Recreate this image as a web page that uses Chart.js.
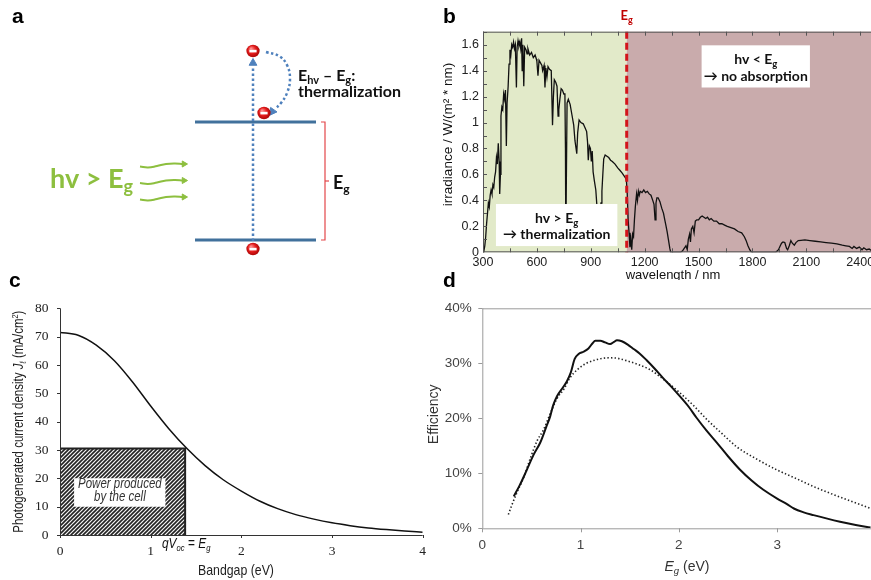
<!DOCTYPE html>
<html><head><meta charset="utf-8">
<script src="https://cdn.jsdelivr.net/npm/chart.js@4.4.1/dist/chart.umd.min.js"></script>
<style>
html,body{margin:0;padding:0;background:#fff}
#root{position:relative;width:871px;height:580px;overflow:hidden;background:#fff}
canvas{position:absolute}
</style></head><body><div id="root">
<canvas id="cc" width="440" height="310" style="left:0;top:270px"></canvas>
<canvas id="cd" width="451" height="310" style="left:420px;top:270px"></canvas>
<canvas id="ca" width="430" height="270" style="left:0;top:0"></canvas>
<canvas id="cb" width="441" height="280" style="left:430px;top:0"></canvas>
</div>
<script>
// ---------------- DATA ----------------
// Panel b: AM1.5 solar spectrum
const specWl = [300,305,310,315,320,325,330,335,340,345,350,355,360,365,370,375,380,385,390,393,397,400,405,410,415,420,425,430,434,440,445,450,455,460,465,470,475,480,486,490,495,500,505,510,515,518,522,527,532,540,545,550,560,570,580,590,597,600,606,612,620,628,632,640,645,650,656,662,670,680,687,692,697,705,712,718,722,728,735,742,750,756,759,761,764,768,775,785,795,805,812,818,822,827,835,845,858,868,877,882,886,892,898,903,908,913,920,928,934,938,942,947,952,957,962,967,972,980,990,1000,1010,1020,1035,1050,1063,1075,1090,1098,1103,1108,1113,1118,1123,1128,1133,1138,1143,1148,1155,1160,1165,1170,1175,1185,1195,1205,1215,1225,1235,1245,1252,1258,1263,1268,1275,1285,1295,1305,1312,1318,1325,1332,1340,1345,1400,1410,1420,1430,1437,1443,1450,1455,1460,1468,1475,1482,1490,1500,1510,1520,1530,1540,1550,1560,1570,1585,1600,1615,1630,1645,1660,1680,1700,1720,1740,1755,1765,1775,1785,1795,1930,1945,1955,1962,1970,1980,1990,1996,2005,2014,2022,2033,2042,2055,2070,2092,2120,2150,2180,2210,2240,2270,2300,2320,2340,2355,2365,2380,2395,2410,2420,2435,2450,2460];
const specIrr = [0,0.01,0.05,0.12,0.22,0.30,0.38,0.35,0.44,0.48,0.45,0.52,0.50,0.58,0.62,0.73,0.68,0.84,0.70,0.45,0.60,1.05,1.12,1.10,1.22,1.18,1.25,0.82,1.15,1.28,1.45,1.56,1.52,1.60,1.58,1.62,1.57,1.60,1.27,1.58,1.63,1.59,1.62,1.57,1.65,1.40,1.60,1.28,1.58,1.56,1.53,1.57,1.52,1.54,1.50,1.52,1.49,1.47,1.36,1.48,1.46,1.44,1.40,1.44,1.27,1.42,1.35,1.43,1.41,1.40,0.98,1.20,1.33,1.31,1.28,1.05,1.10,1.18,1.26,1.25,1.22,1.22,0.80,0.05,0.55,1.15,1.18,1.14,1.06,0.98,0.86,0.80,0.76,0.92,1.02,1.00,0.99,0.96,0.93,0.85,0.71,0.82,0.80,0.70,0.78,0.62,0.55,0.48,0.36,0.22,0.10,0.20,0.30,0.38,0.47,0.60,0.72,0.75,0.74,0.73,0.71,0.70,0.68,0.65,0.63,0.61,0.58,0.56,0.45,0.25,0.15,0.04,0.10,0.02,0.14,0.12,0.25,0.35,0.45,0.40,0.47,0.44,0.47,0.46,0.48,0.46,0.47,0.45,0.44,0.40,0.37,0.25,0.38,0.42,0.42,0.39,0.34,0.30,0.25,0.21,0.16,0.10,0.03,0,0,0.01,0.03,0.05,0.02,0.10,0.14,0.08,0.18,0.20,0.15,0.24,0.25,0.25,0.27,0.28,0.27,0.26,0.27,0.25,0.26,0.24,0.24,0.22,0.22,0.21,0.20,0.19,0.18,0.16,0.15,0.12,0.09,0.05,0.02,0,0,0.02,0.05,0.07,0.08,0.075,0.03,0.02,0.05,0.09,0.07,0.055,0.075,0.09,0.092,0.095,0.09,0.085,0.08,0.075,0.07,0.065,0.055,0.05,0.045,0.03,0.045,0.03,0.04,0.02,0.035,0.02,0.025,0.015];
const bandgapNm = 1100;
const bXRange = [300, 2460];
const bYRange = [0, 1.7];
const bXTicks = [300,600,900,1200,1500,1800,2100,2400];
const bYTicks = [0,0.2,0.4,0.6,0.8,1,1.2,1.4,1.6];
const noAbsBox = [1517, 2120, 1.27, 1.595];      // x0,x1 (nm), y0,y1
const thermBox = [372, 1048, 0.048, 0.372];

// Panel c: photogenerated current density vs bandgap
const cEg = [0,0.2,0.4,0.6,0.8,1.0,1.2,1.4,1.6,1.8,2.0,2.2,2.4,2.6,2.8,3.0,3.2,3.4,3.6,3.8,4.0];
const cJ  = [71.5,70.5,67,61.5,54,45.5,37.5,30.5,24.5,19.5,15.5,12,9.3,7.2,5.6,4.3,3.3,2.5,1.9,1.4,1.0];
const cVocEg = 1.38, cJatEg = 30.5;
const cLabelBox = [0.155, 1.165, 10, 20];

// Panel d: efficiency vs bandgap
const dSolidEg  = [0.32,0.38,0.45,0.52,0.59,0.65,0.69,0.72,0.76,0.82,0.86,0.9,0.94,0.98,1.03,1.08,1.12,1.15,1.2,1.25,1.3,1.34,1.37,1.42,1.48,1.54,1.6,1.67,1.75,1.84,1.92,2.0,2.1,2.18,2.28,2.39,2.5,2.62,2.74,2.86,3.0,3.1,3.17,3.27,3.37,3.5,3.64,3.8,3.95];
const dSolidEff = [5.8,7.8,10.5,13.3,15.6,18.4,20.3,22.3,24.0,25.6,26.7,28.3,30.8,31.7,32.1,32.7,33.6,34.1,34.1,33.8,33.5,33.9,34.2,34.0,33.4,32.6,31.8,30.6,29.1,27.3,25.8,24.2,22.1,20.1,17.8,15.5,13.1,10.7,8.7,7.0,5.4,4.4,3.6,2.9,2.4,1.8,1.2,0.6,0.15];
const dDotEg  = [0.265,0.3,0.35,0.42,0.49,0.56,0.62,0.69,0.76,0.83,0.89,0.97,1.06,1.15,1.22,1.3,1.38,1.5,1.6,1.71,1.85,2.0,2.15,2.29,2.44,2.59,2.8,3.0,3.2,3.37,3.55,3.71,3.85,3.95];
const dDotEff = [2.5,4.2,6.4,9.2,12.8,16.0,17.8,20.8,23.6,25.3,27.3,28.9,30.0,30.6,30.9,31.0,30.9,30.3,29.7,28.8,27.0,24.8,22.3,19.7,17.2,14.8,12.5,10.6,9.0,7.6,6.3,5.2,4.3,3.6];

// Panel a: band diagram geometry (diagram units)
const aLevelX = [195, 316];
const aUpperY = 122, aLowerY = 240;
const aTransX = 253;
const aTransY = [246, 66];
const aElectrons = [[253,51],[264,113],[253,249]];
const aThermPath = [[266,52],[279,56],[287,65],[290,79],[287,93],[281,103],[275,109]];
const aBracketX = 325;
const aPhotonY = [165, 181.5, 198];
const aPhotonX = [140, 148, 157, 166, 175, 183];
const aPhotonDy = [1.5, 2.5, 1, -1, -1.5, -1];

// ---------------- HELPERS ----------------
const FS = "'Liberation Sans', Arial, sans-serif";
const FSerif = "'Liberation Serif', 'Times New Roman', serif";
const FC = "Lato, 'Open Sans', sans-serif";
const NARROW = 0.82;
const pts = (xs, ys) => xs.map((x,i)=>({x, y: ys[i]}));

function richWidth(ctx, parts){ let w=0; for(const p of parts){ ctx.font=p.f; w+=ctx.measureText(p.t).width; } return w; }
function drawRich(ctx, x, y, parts, align, color, sx){
  sx = sx || 1;
  const w = richWidth(ctx, parts)*sx;
  let cx = align==='center' ? x - w/2 : align==='right' ? x - w : x;
  ctx.save(); ctx.translate(cx, y); ctx.scale(sx,1);
  ctx.textAlign='left'; ctx.textBaseline='alphabetic';
  let px=0;
  for(const p of parts){ ctx.font=p.f; ctx.fillStyle=p.c||color; ctx.fillText(p.t, px, (p.dy||0)); px += ctx.measureText(p.t).width; }
  ctx.restore();
}
function drawRichRot(ctx, x, y, parts, color, sx){
  ctx.save(); ctx.translate(x,y); ctx.rotate(-Math.PI/2); drawRich(ctx,0,0,parts,'center',color,sx); ctx.restore();
}
function panelLetter(ctx, t, x, y){ ctx.save(); ctx.font="bold 21px "+FS; ctx.fillStyle='#000'; ctx.textAlign='left'; ctx.textBaseline='alphabetic'; ctx.fillText(t,x,y); ctx.restore(); }

function makeElectron(){
  const c=document.createElement('canvas'); c.width=14; c.height=14;
  const g=c.getContext('2d');
  const grad=g.createRadialGradient(5,4.5,0.5,7,7,7.5);
  grad.addColorStop(0,'#ff8a8a'); grad.addColorStop(0.5,'#e31b1b'); grad.addColorStop(1,'#9a0000');
  g.fillStyle=grad; g.beginPath(); g.ellipse(7,7,6.6,6.2,0,0,Math.PI*2); g.fill();
  g.fillStyle='#fff'; g.fillRect(3.4,5.8,7.2,2.6);
  return c;
}
function makeHatch(){
  const c=document.createElement('canvas'); c.width=4; c.height=4;
  const g=c.getContext('2d');
  g.fillStyle='#f4f4f4'; g.fillRect(0,0,4,4);
  g.strokeStyle='#222'; g.lineWidth=1.6;
  g.beginPath(); g.moveTo(-1,5); g.lineTo(5,-1); g.moveTo(-1,1); g.lineTo(1,-1); g.moveTo(3,5); g.lineTo(5,3); g.stroke();
  return c;
}
const base = { responsive:false, animation:false, events:[], plugins:{legend:{display:false}, tooltip:{enabled:false}} };
const noGrid = {display:false, drawTicks:false};
const fixX = h => s => { s.height = h; s.paddingLeft = 0; s.paddingRight = 0; };
const fixY = w => s => { s.width = w; s.paddingTop = 0; s.paddingBottom = 0; };

// ---------------- PANEL A ----------------
(function(){
  const blue='#41719c', dot='#4f81bd', green='#8dbf3f', red='#e3474a';
  const electron = makeElectron();
  const ds = [];
  ds.push({data: pts(aLevelX,[aUpperY,aUpperY]), borderColor:blue, borderWidth:3});
  ds.push({data: pts(aLevelX,[aLowerY,aLowerY]), borderColor:blue, borderWidth:3});
  ds.push({data: pts([aTransX,aTransX], aTransY), borderColor:dot, borderWidth:2.5, borderDash:[2.5,2.5]});
  ds.push({data: aThermPath.map(p=>({x:p[0],y:p[1]})), borderColor:dot, borderWidth:2.5, borderDash:[2.5,2.5], tension:0.4});
  ds.push({data:[{x:aTransX,y:aTransY[1]-3}], showLine:false, pointStyle:'triangle', pointRadius:4.5, pointRotation:0, backgroundColor:dot, borderColor:dot});
  ds.push({data:[{x:272.5,y:111.5}], showLine:false, pointStyle:'triangle', pointRadius:4.5, pointRotation:215, backgroundColor:dot, borderColor:dot});
  ds.push({data:[{x:aBracketX-4,y:aUpperY},{x:aBracketX,y:aUpperY},{x:aBracketX,y:aLowerY},{x:aBracketX-4,y:aLowerY}], borderColor:red, borderWidth:1.2});
  ds.push({data:[{x:aBracketX,y:(aUpperY+aLowerY)/2},{x:aBracketX+4,y:(aUpperY+aLowerY)/2}], borderColor:red, borderWidth:1.2});
  aPhotonY.forEach(y0=>{
    ds.push({data: aPhotonX.map((x,i)=>({x, y:y0+aPhotonDy[i]})), borderColor:green, borderWidth:2, tension:0.45});
    ds.push({data:[{x:aPhotonX[aPhotonX.length-1]+1,y:y0-1}], showLine:false, pointStyle:'triangle', pointRadius:3.5, pointRotation:90, backgroundColor:green, borderColor:green});
  });
  ds.push({data: aElectrons.map(p=>({x:p[0],y:p[1]})), showLine:false, pointStyle:electron, pointRadius:7});
  ds.forEach(d=>{ if(d.showLine!==false){ d.showLine=true; d.pointRadius=0; } d.clip=false; });
  ds.reverse();
  new Chart(document.getElementById('ca'), {
    type:'scatter', data:{datasets:ds},
    options:Object.assign({}, base, {
      layout:{padding:0, autoPadding:false},
      scales:{x:{type:'linear',min:0,max:430,display:false}, y:{type:'linear',min:0,max:270,reverse:true,display:false}}
    }),
    plugins:[{id:'pa', afterDraw(chart){
      const ctx=chart.ctx; ctx.save();
      panelLetter(ctx,'a',12,23);
      drawRich(ctx,298,81,[{t:'E',f:'bold 16px '+FC},{t:'hv',f:'bold 11px '+FC,dy:3},{t:' \u2013 E',f:'bold 16px '+FC},{t:'g',f:'bold 11px '+FC,dy:3},{t:':',f:'bold 16px '+FC}],'left','#111');
      drawRich(ctx,298,97,[{t:'thermalization',f:'bold 16px '+FC}],'left','#111');
      drawRich(ctx,333,189,[{t:'E',f:'bold 18px '+FC},{t:'g',f:'bold 12px '+FC,dy:4}],'left','#111');
      drawRich(ctx,50,188,[{t:'hv > E',f:'bold 27px '+FC},{t:'g',f:'bold 18px '+FC,dy:5}],'left','#8dbf3f');
      ctx.restore();
    }}]
  });
})();

// ---------------- PANEL B ----------------
(function(){
  new Chart(document.getElementById('cb'), {
    type:'scatter',
    data:{datasets:[{data: pts(specWl, specIrr), showLine:true, borderColor:'#111', borderWidth:1.3, pointRadius:0, tension:0}]},
    options:Object.assign({}, base, {
      layout:{padding:{left:0,top:31.7,right:0,bottom:0}, autoPadding:false},
      scales:{
        x:{type:'linear', min:bXRange[0], max:bXRange[1], afterFit:fixX(27.7),
           afterBuildTicks:s=>{ s.ticks = bXTicks.map(v=>({value:v})); },
           grid:noGrid, border:{display:false},
           ticks:{padding:3, color:'#222', font:{family:FS,size:12.5}, maxRotation:0, autoSkip:false, callback:v=>String(v)}},
        y:{type:'linear', min:bYRange[0], max:bYRange[1], afterFit:fixY(53),
           afterBuildTicks:s=>{ s.ticks = bYTicks.map(v=>({value:v})); },
           grid:noGrid, border:{display:false},
           ticks:{padding:4, color:'#222', font:{family:FS,size:12.5}, callback:v=>String(Math.round(v*10)/10)}}
      }
    }),
    plugins:[{id:'pb',
      beforeDatasetsDraw(chart){
        const {ctx, chartArea:a, scales:{x}} = chart; const xe=x.getPixelForValue(bandgapNm);
        ctx.save();
        ctx.fillStyle='#e2eac9'; ctx.fillRect(a.left,a.top,xe-a.left,a.bottom-a.top);
        ctx.fillStyle='#c9abac'; ctx.fillRect(xe,a.top,a.right-xe,a.bottom-a.top);
        ctx.restore();
      },
      afterDatasetsDraw(chart){
        const {ctx, chartArea:a, scales:{x,y}} = chart; const xe=x.getPixelForValue(bandgapNm);
        ctx.save();
        ctx.strokeStyle='#d3141b'; ctx.lineWidth=3; ctx.setLineDash([7,4]);
        ctx.beginPath(); ctx.moveTo(xe,a.top); ctx.lineTo(xe,a.bottom); ctx.stroke(); ctx.setLineDash([]);
        const bx=(b)=>{ const x0=x.getPixelForValue(b[0]), x1=x.getPixelForValue(b[1]), y1=y.getPixelForValue(b[3]), y0=y.getPixelForValue(b[2]);
          ctx.fillStyle='#fff'; ctx.fillRect(x0,y1,x1-x0,y0-y1); return {cx:(x0+x1)/2, top:y1}; };
        const f1='bold 14px '+FC, f2='bold 9.5px '+FC;
        let b1=bx(noAbsBox);
        drawRich(ctx,b1.cx,b1.top+19,[{t:'hv < E',f:f1},{t:'g',f:f2,dy:3}],'center','#111');
        drawRich(ctx,b1.cx,b1.top+35.5,[{t:'\u2192 no absorption',f:f1}],'center','#111');
        let b2=bx(thermBox);
        drawRich(ctx,b2.cx,b2.top+19,[{t:'hv > E',f:f1},{t:'g',f:f2,dy:3}],'center','#111');
        drawRich(ctx,b2.cx,b2.top+35,[{t:'\u2192 thermalization',f:f1}],'center','#111');
        ctx.strokeStyle='#555'; ctx.lineWidth=1;
        ctx.beginPath();
        ctx.moveTo(a.left+0.5,a.top); ctx.lineTo(a.left+0.5,a.bottom);
        ctx.moveTo(a.left,a.bottom-0.5); ctx.lineTo(a.right,a.bottom-0.5);
        ctx.moveTo(a.left,a.top+0.5); ctx.lineTo(a.right,a.top+0.5);
        for(let w=300; w<=2400; w+=150){ const px=Math.round(x.getPixelForValue(w))+0.5;
          ctx.moveTo(px,a.bottom); ctx.lineTo(px,a.bottom-4); ctx.moveTo(px,a.top); ctx.lineTo(px,a.top+4); }
        for(let k=1; k<=17; k++){ const py=Math.round(y.getPixelForValue(k/10))+0.5; ctx.moveTo(a.left,py); ctx.lineTo(a.left+4,py); }
        ctx.stroke();
        drawRich(ctx,xe,19.5,[{t:'E',f:'bold 13px '+FC},{t:'g',f:'bold 9px '+FC,dy:3}],'center','#c00000');
        ctx.fillStyle='#111'; ctx.font='13px '+FS; ctx.textAlign='center'; ctx.textBaseline='middle';
        ctx.fillText('wavelength / nm', (a.left+a.right)/2-4, 275.5);
        ctx.save(); ctx.translate(18,134.5); ctx.rotate(-Math.PI/2); ctx.font='13.5px '+FS; ctx.fillText('irradiance / W/(m\u00b2 * nm)',0,0); ctx.restore();
        panelLetter(ctx,'b',13,23);
        ctx.restore();
      }}]
  });
})();

// ---------------- PANEL C ----------------
(function(){
  const hatch = document.getElementById('cc').getContext('2d').createPattern(makeHatch(),'repeat');
  new Chart(document.getElementById('cc'), {
    type:'scatter',
    data:{datasets:[
      {data: pts(cEg,cJ), showLine:true, borderColor:'#111', borderWidth:1.5, pointRadius:0, cubicInterpolationMode:'monotone'},
      {data: pts([0,0,cVocEg,cVocEg],[0,cJatEg,cJatEg,0]), showLine:true, borderColor:'#222', borderWidth:2, pointRadius:0},
      {data: pts([cLabelBox[0],cLabelBox[1]],[cLabelBox[3],cLabelBox[3]]), showLine:true, borderWidth:0, borderColor:'rgba(0,0,0,0)', pointRadius:0, fill:{value:cLabelBox[2]}, backgroundColor:'#fff'},
      {data: pts([0,cVocEg],[cJatEg,cJatEg]), showLine:true, borderWidth:0, borderColor:'rgba(0,0,0,0)', pointRadius:0, fill:'origin', backgroundColor:hatch}
    ]},
    options:Object.assign({}, base, {
      layout:{padding:{left:0,top:38.3,right:17.3,bottom:0}, autoPadding:false},
      scales:{
        x:{type:'linear',min:0,max:4, afterFit:fixX(45), grid:noGrid, border:{display:false},
           ticks:{stepSize:1,padding:8,color:'#222',font:{family:FSerif,size:13.5},maxRotation:0,autoSkip:false}},
        y:{type:'linear',min:0,max:80, afterFit:fixY(60), grid:noGrid, border:{display:false},
           ticks:{stepSize:10,padding:11.5,color:'#222',font:{family:FSerif,size:13.5}}}
      }
    }),
    plugins:[{id:'pc', afterDatasetsDraw(chart){
      const {ctx, chartArea:a, scales:{x,y}} = chart;
      ctx.save();
      ctx.strokeStyle='#333'; ctx.lineWidth=1; ctx.beginPath();
      ctx.moveTo(a.left+0.5,a.top); ctx.lineTo(a.left+0.5,a.bottom);
      ctx.moveTo(a.left,a.bottom+0.5); ctx.lineTo(a.right,a.bottom+0.5);
      for(let v=0; v<=80; v+=10){ const py=Math.round(y.getPixelForValue(v))+0.5; ctx.moveTo(a.left-3,py); ctx.lineTo(a.left,py); }
      for(let v=0; v<=4; v++){ const px=Math.round(x.getPixelForValue(v))+0.5; ctx.moveTo(px,a.bottom); ctx.lineTo(px,a.bottom+3); }
      ctx.stroke();
      const cx = x.getPixelForValue((cLabelBox[0]+cLabelBox[1])/2), ty=y.getPixelForValue(cLabelBox[3]);
      drawRich(ctx,cx,ty+9.5,[{t:'Power produced',f:'italic 14px '+FS}],'center','#333',NARROW);
      drawRich(ctx,cx,ty+23,[{t:'by the cell',f:'italic 14px '+FS}],'center','#333',NARROW);
      drawRich(ctx,162,278,[{t:'qV',f:'italic 14px '+FS},{t:'oc',f:'italic 9px '+FS,dy:3},{t:' = ',f:'14px '+FS},{t:'E',f:'italic 14px '+FS},{t:'g',f:'italic 9px '+FS,dy:3}],'left','#111',0.85);
      drawRich(ctx,236,305,[{t:'Bandgap (eV)',f:'15px '+FS}],'center','#222',NARROW);
      drawRichRot(ctx,23,(a.top+a.bottom)/2,[{t:'Photogenerated current density ',f:'14px '+FS},{t:'J',f:'italic 14px '+FS},{t:'\u2113',f:'italic 9px '+FS,dy:3},{t:' (mA/cm',f:'14px '+FS},{t:'2',f:'9px '+FS,dy:-5},{t:')',f:'14px '+FS}],'#222',NARROW);
      panelLetter(ctx,'c',9,17);
      ctx.restore();
    }}]
  });
})();

// ---------------- PANEL D ----------------
(function(){
  new Chart(document.getElementById('cd'), {
    type:'scatter',
    data:{datasets:[
      {data: pts(dSolidEg,dSolidEff), showLine:true, borderColor:'#111', borderWidth:2, pointRadius:0, cubicInterpolationMode:'monotone'},
      {data: pts(dDotEg,dDotEff), showLine:true, borderColor:'#222', borderWidth:1.6, borderDash:[1.4,2.2], pointRadius:0, cubicInterpolationMode:'monotone'}
    ]},
    options:Object.assign({}, base, {
      layout:{padding:{left:0,top:38.3,right:0,bottom:0}, autoPadding:false},
      scales:{
        x:{type:'linear',min:0,max:3.955, afterFit:fixX(51.7),
           afterBuildTicks:s=>{ s.ticks=[0,1,2,3].map(v=>({value:v})); },
           grid:noGrid, border:{display:false},
           ticks:{padding:9,color:'#444',font:{family:FS,size:13.5},maxRotation:0,autoSkip:false}},
        y:{type:'linear',min:0,max:40, afterFit:fixY(62.3), grid:noGrid, border:{display:false},
           ticks:{stepSize:10,padding:10.5,color:'#444',font:{family:FS,size:13.5},callback:v=>v+'%'}}
      }
    }),
    plugins:[{id:'pd', afterDatasetsDraw(chart){
      const {ctx, chartArea:a, scales:{x,y}} = chart;
      ctx.save();
      ctx.strokeStyle='#9a9a9a'; ctx.lineWidth=1; ctx.beginPath();
      ctx.moveTo(a.left+0.5,a.top); ctx.lineTo(a.left+0.5,a.bottom);
      ctx.moveTo(a.left,a.bottom+0.5); ctx.lineTo(a.right,a.bottom+0.5);
      ctx.moveTo(a.left,a.top+0.5); ctx.lineTo(a.right,a.top+0.5);
      for(let v=0; v<=40; v+=10){ const py=Math.round(y.getPixelForValue(v))+0.5; ctx.moveTo(a.left-4,py); ctx.lineTo(a.left,py); }
      for(let v=0; v<=3; v++){ const px=Math.round(x.getPixelForValue(v))+0.5; ctx.moveTo(px,a.bottom); ctx.lineTo(px,a.bottom+4); }
      ctx.stroke();
      drawRich(ctx,267,301,[{t:'E',f:'italic 14px '+FS},{t:'g',f:'italic 9.5px '+FS,dy:3},{t:' (eV)',f:'14px '+FS}],'center','#333');
      drawRichRot(ctx,18,(a.top+a.bottom)/2 - 4,[{t:'Efficiency',f:'14px '+FS}],'#333');
      panelLetter(ctx,'d',23,17);
      ctx.restore();
    }}]
  });
})();
</script></body></html>
